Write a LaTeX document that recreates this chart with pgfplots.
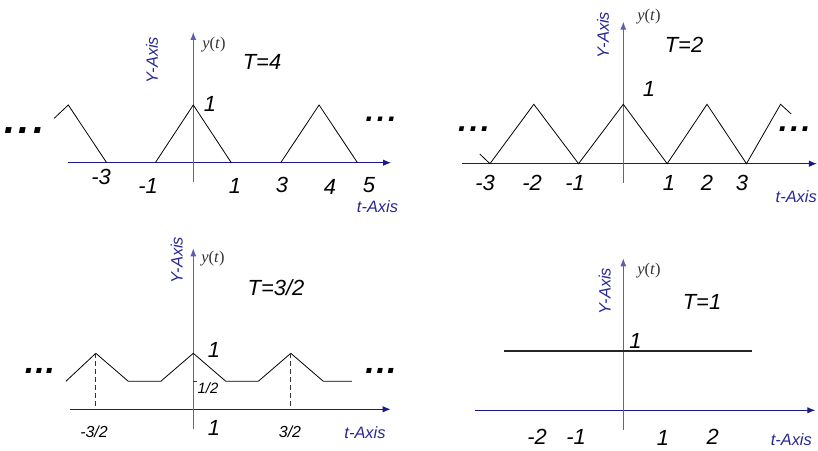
\documentclass[border=0pt]{standalone}
\usepackage{fontspec}
\setmainfont{Liberation Sans}
\newfontfamily\tms{Liberation Serif}
\usepackage{pgfplots}
\pgfplotsset{compat=1.18}
\usetikzlibrary{arrows.meta}

\definecolor{xblue}{RGB}{25,25,140}
\definecolor{yblue}{RGB}{95,95,175}
\definecolor{lblue}{RGB}{40,40,150}

\pgfplotsset{
  panel/.style={
    axis lines=middle, ticks=none, enlargelimits=false, clip=false,
    anchor=origin,
    x axis line style={draw=xblue, line width=1.1bp, -{Latex[length=8bp,width=6.5bp]}},
    y axis line style={draw=yblue, line width=0.9bp, -{Latex[length=8bp,width=6bp]}},
  },
  wave/.style={black, line width=0.8bp, no markers},
}

% text styles
\tikzset{
  num/.style={inner sep=0pt, font=\fontsize{22}{22}\selectfont\itshape},
  ttl/.style={inner sep=0pt, font=\fontsize{22}{22}\selectfont\itshape},
  frac/.style={inner sep=0pt, font=\fontsize{16}{16}\selectfont\itshape},
  axname/.style={inner sep=0pt, text=lblue, font=\fontsize{16.5}{16.5}\selectfont\itshape},
  yt/.style={inner sep=0pt, text=black!80, font=\tms\fontsize{16.5}{16.5}\selectfont},
}
\newcommand\ydef{\textit{y}(\textit{t})}
\newcommand\tdots[2]{{\fontsize{#1}{#1}\selectfont\bfseries\itshape .\kern#2bp.\kern#2bp.}}

\begin{document}
\begin{tikzpicture}[x=1bp,y=1bp]
\useasboundingbox (0,0) rectangle (818,451);
\clip (0,0) rectangle (818,451);

% ---------------- T = 4 ----------------
\begin{axis}[panel, at={(193.3bp,288.3bp)}, x=38bp, y=57.7bp,
  xmin=-3.297, xmax=5.203, ymin=-0.3345, ymax=2.265]
  \addplot[wave] coordinates {(-3.66,0.77) (-3.29,1) (-2.28,0)};
  \addplot[wave] coordinates {(-1,0) (0,1) (1,0)};
  \addplot[wave] coordinates {(2.30,0) (3.31,1) (4.32,0)};
\end{axis}

% ---------------- T = 2 ----------------
\begin{axis}[panel, at={(623.3bp,287.3bp)}, x=44.3bp, y=59.4bp,
  xmin=-3.634, xmax=4.372, ymin=-0.32, ymax=2.391]
  \addplot[wave] coordinates {(-3.24,0.163) (-3.01,0) (-2.02,1) (-1.01,0) (0,1)
    (0.99,0) (1.89,1) (2.78,0) (3.55,1) (3.79,0.837)};
\end{axis}

% ---------------- T = 3/2 ----------------
\begin{axis}[panel, at={(193.3bp,41.7bp)}, x=65bp, y=56bp,
  xmin=-1.897, xmax=3.037, ymin=-0.352, ymax=2.875]
  \addplot[wave] coordinates {(-1.96,0.5) (-1.5,1) (-1,0.5) (-0.5,0.5) (0,1)
    (0.5,0.5) (1,0.5) (1.5,1) (2,0.5) (2.44,0.5)};
  \addplot[black!80, line width=0.7bp, dash pattern=on 5bp off 3bp] coordinates {(-1.5,1) (-1.5,0.05)};
  \addplot[black!80, line width=0.7bp, dash pattern=on 5bp off 3bp] coordinates {(1.5,1) (1.5,0.05)};
  \addplot[black!80, line width=0.7bp] coordinates {(0,0.5) (0.05,0.5)};
\end{axis}

% ---------------- T = 1 ----------------
\begin{axis}[panel, at={(623.3bp,40.7bp)}, x=44bp, y=59.3bp,
  xmin=-3.377, xmax=4.364, ymin=-0.332, ymax=2.563]
  \addplot[black!85, line width=1.5bp, no markers] coordinates {(-2.71,1) (2.93,1)};
\end{axis}

% ---- labels, T = 4
\node[num] at (210,347) {1};
\node[ttl] at (262,389) {T=4};
\node[axname, rotate=90] at (152,391) {Y-Axis};
\node[yt] at (214,406) {\ydef};
\node[num] at (101,274) {-3};
\node[num] at (148,265) {-1};
\node[num] at (235,265) {1};
\node[num] at (282,266) {3};
\node[num] at (330,264) {4};
\node[num] at (369,266) {5};
\node[axname] at (377.5,244.3) {t-Axis};
\node[inner sep=0pt] at (24.5,320) {\tdots{40}{3}};
\node[inner sep=0pt] at (381,331.5) {\tdots{30}{3}};

% ---- labels, T = 2
\node[num] at (485,268) {-3};
\node[num] at (532,268) {-2};
\node[num] at (575,268) {-1};
\node[num] at (669,268) {1};
\node[num] at (707,268) {2};
\node[num] at (742,268) {3};
\node[num] at (649,362) {1};
\node[ttl] at (684,406) {T=2};
\node[axname, rotate=90] at (603,416) {Y-Axis};
\node[yt] at (649,434) {\ydef};
\node[axname, anchor=east] at (817,254) {t-Axis};
\node[inner sep=0pt] at (474,322) {\tdots{32}{2.5}};
\node[inner sep=0pt] at (794.7,322) {\tdots{32}{2.5}};

% ---- labels, T = 3/2
\node[frac] at (94,19) {-3/2};
\node[frac] at (290,19) {3/2};
\node[num] at (214,23) {1};
\node[num] at (214,101) {1};
\node[inner sep=0pt, font=\fontsize{15}{15}\selectfont\itshape] at (208,63) {1/2};
\node[ttl] at (276,163) {T=3/2};
\node[axname, rotate=90] at (176.7,191) {Y-Axis};
\node[yt] at (213,192) {\ydef};
\node[axname] at (365,18.5) {t-Axis};
\node[inner sep=0pt] at (40,80.5) {\tdots{34}{1}};
\node[inner sep=0pt] at (381,80.5) {\tdots{34}{1.5}};

% ---- labels, T = 1
\node[num] at (537,14.3) {-2};
\node[num] at (576,14.3) {-1};
\node[num] at (663,13) {1};
\node[num] at (712.7,14) {2};
\node[axname] at (791.3,11.5) {t-Axis};
\node[num] at (635.5,110) {1};
\node[ttl] at (702,149.3) {T=1};
\node[axname, rotate=90] at (604.7,160) {Y-Axis};
\node[yt] at (649,180) {\ydef};
\end{tikzpicture}
\end{document}
